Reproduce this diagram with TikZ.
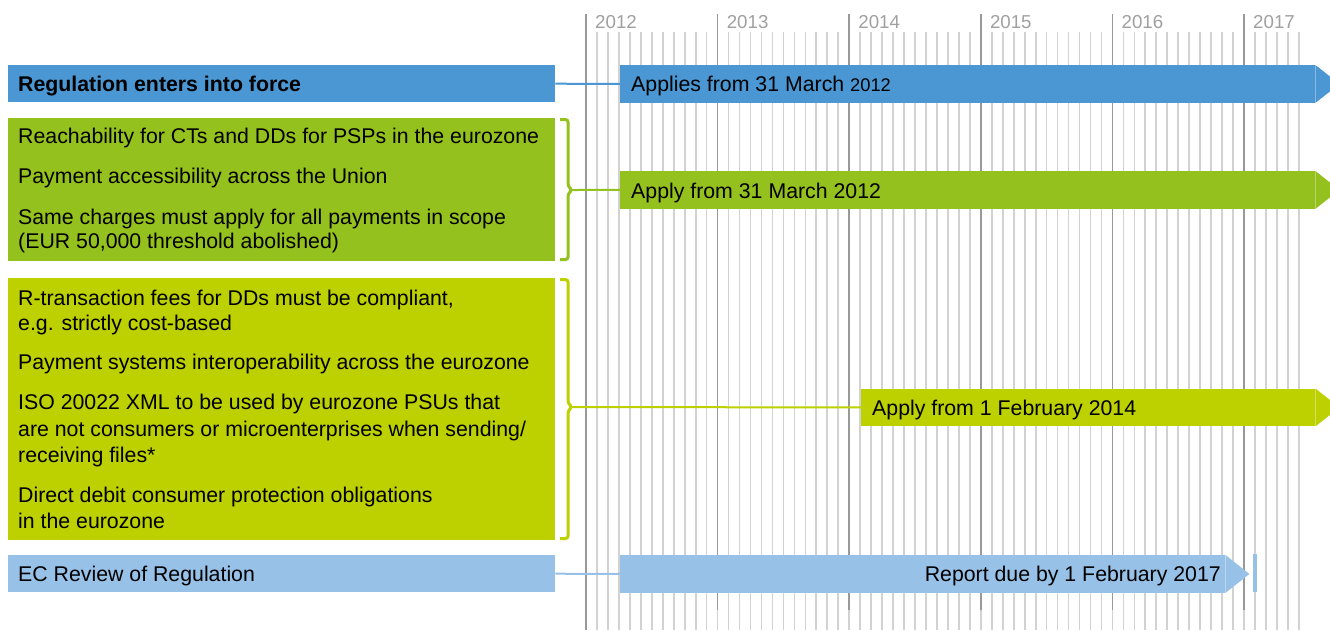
\documentclass[tikz,border=0pt]{standalone}
\usepackage{fontspec}
\setmainfont{Liberation Sans}
\usetikzlibrary{calc}
\definecolor{cblue}{HTML}{4A97D3}
\definecolor{cgreen}{HTML}{95C11F}
\definecolor{clime}{HTML}{BDD000}
\definecolor{clight}{HTML}{98C1E8}
\definecolor{gridlight}{HTML}{D2D2D2}
\definecolor{griddark}{HTML}{999999}
\definecolor{yeartext}{HTML}{A0A0A0}
\begin{document}
\begin{tikzpicture}[x=1pt,y=-1pt,
  panel/.style={anchor=north west, inner sep=0pt, minimum width=547pt},
  barbody/.style={anchor=north west, inner sep=0pt, minimum height=37.5pt},
  txt/.style={anchor=base west, inner sep=0pt, font=\fontsize{21.3}{25}\selectfont, text=black},
  yrlabel/.style={anchor=base west, inner sep=0pt, font=\fontsize{18.7}{22}\selectfont, text=yeartext},
  bracepath/.style={line width=3pt, rounded corners=2.5pt},
  link/.style={line width=2pt},
]
\useasboundingbox (0,0) rectangle (1330,630);
\fill[white] (0,0) rectangle (1330,630);
% grid
\foreach \kk in {0,...,65} {
  \draw[gridlight, line width=1.7pt] ({586+\kk*10.967},32) -- ({586+\kk*10.967},630);
}
\draw[griddark, line width=1.6pt] (586,14) -- (586,630);
\foreach \kk/\yy in {0/2012,1/2013,2/2014,3/2015,4/2016,5/2017} {
  \draw[griddark, line width=1.6pt] ({586+\kk*131.6},14) -- ({586+\kk*131.6},610);
  \node[yrlabel] (year\yy) at ({595+\kk*131.6},28) {\yy};
}
% left panels
\node[panel, fill=cblue, minimum height=37pt] (reg) at (8,65) {};
\node[txt, font=\bfseries\fontsize{21.3}{25}\selectfont] (regt) at (18,91.5) {Regulation enters into force};
\node[panel, fill=cgreen, minimum height=143pt] (grp1) at (8,118) {};
\node[txt] (g1a) at (18,143) {Reachability for CTs and DDs for PSPs in the eurozone};
\node[txt] (g1b) at (18,183.3) {Payment accessibility across the Union};
\node[txt] (g1c) at (18,224) {Same charges must apply for all payments in scope};
\node[txt] (g1d) at (18,248) {(EUR 50,000 threshold abolished)};
\node[panel, fill=clime, minimum height=262pt] (grp2) at (8,278) {};
\node[txt] (g2a) at (18,305) {R-transaction fees for DDs must be compliant,};
\node[txt] (g2b) at (18,330) {e.g. strictly cost-based};
\node[txt] (g2c) at (18,369) {Payment systems interoperability across the eurozone};
\node[txt] (g2d) at (18,409) {ISO 20022 XML to be used by eurozone PSUs that};
\node[txt] (g2e) at (18,436) {are not consumers or microenterprises when sending/};
\node[txt] (g2f) at (18,462) {receiving files*};
\node[txt] (g2g) at (18,502) {Direct debit consumer protection obligations};
\node[txt] (g2h) at (18,528) {in the eurozone};
\node[panel, fill=clight, minimum height=37pt] (rev) at (8,555) {};
\node[txt] (revt) at (18,581) {EC Review of Regulation};
% bars
\node[barbody, fill=cblue, minimum width=695pt] (bar1) at (620,65) {};
\fill[cblue] (bar1.north east) -- ($(bar1.east)+(24,0)$) -- (bar1.south east) -- cycle;
\node[barbody, fill=cgreen, minimum width=695pt] (bar2) at (620,171) {};
\fill[cgreen] (bar2.north east) -- ($(bar2.east)+(24,0)$) -- (bar2.south east) -- cycle;
\node[barbody, fill=clime, minimum width=454pt] (bar3) at (861,388.5) {};
\fill[clime] (bar3.north east) -- ($(bar3.east)+(24,0)$) -- (bar3.south east) -- cycle;
\node[barbody, fill=clight, minimum width=605pt] (bar4) at (620,555) {};
\fill[clight] (bar4.north east) -- ($(bar4.east)+(24,0)$) -- (bar4.south east) -- cycle;
\node[fill=clight, inner sep=0pt, minimum width=4pt, minimum height=38pt, anchor=north west] (mark) at (1253,554) {};
% bar texts
\node[txt] (bar1t) at (631,91) {Applies from 31 March {\fontsize{18.3}{22}\selectfont 2012}};
\node[txt] (bar2t) at (631,198) {Apply from 31 March 2012};
\node[txt] (bar3t) at (872,415) {Apply from 1 February 2014};
\node[txt, anchor=base east] (bar4t) at (1221,581) {Report due by 1 February 2017};
% braces
\draw[cgreen, bracepath] (560,119.5) -| (568,186) -- (572,190) -- (568,194) |- (560,259.5);
\coordinate (tip1) at (572,190);
\draw[clime, bracepath] (560,279.5) -| (568,403) -- (572,407) -- (568,411) |- (560,538.5);
\coordinate (tip2) at (572,407);
% connectors
\draw[cblue, link] (reg.east) -- (bar1.west);
\draw[cgreen, link] (tip1) -- (bar2.west);
\draw[clime, link] (tip2) -- (bar3.west);
\draw[clight, link] (rev.east) -- (bar4.west);
\end{tikzpicture}
\end{document}
